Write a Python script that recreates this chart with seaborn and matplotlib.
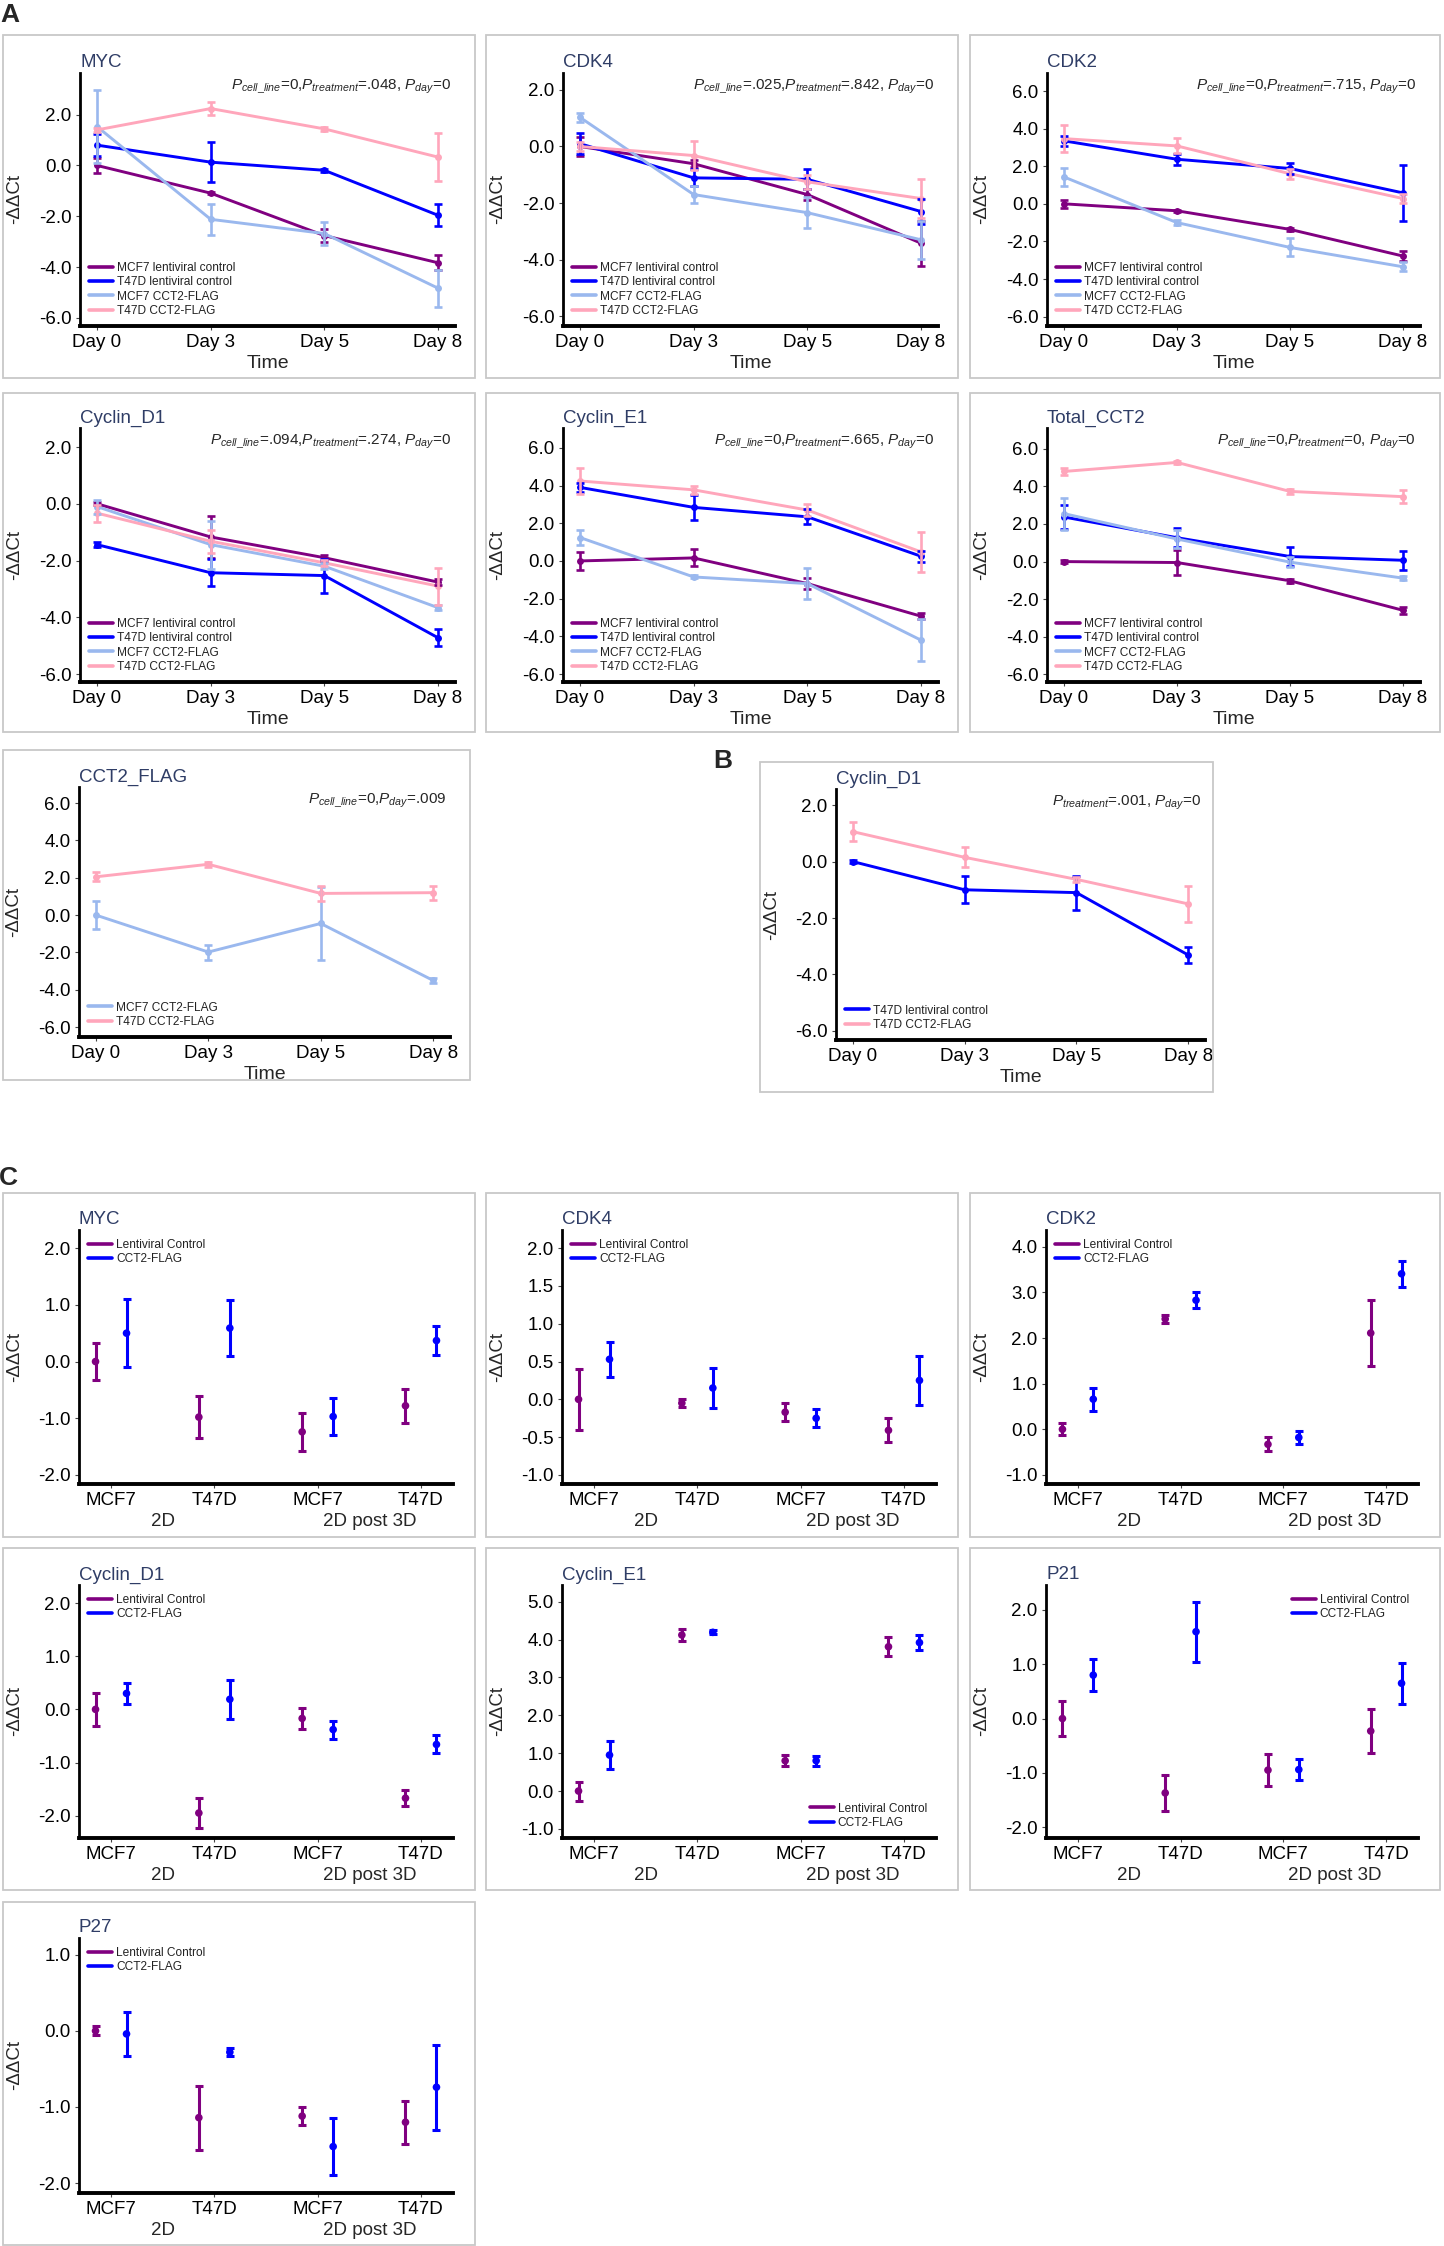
import matplotlib
matplotlib.use("Agg")
import matplotlib.pyplot as plt
import seaborn as sns
import pandas as pd
from matplotlib.lines import Line2D
from matplotlib.patches import Rectangle
from matplotlib.ticker import FuncFormatter

# ---- data: time course (panel A / B) ----
DAYS = ["Day 0", "Day 3", "Day 5", "Day 8"]
GROUPS_A = ["MCF7 lentiviral control", "T47D lentiviral control", "MCF7 CCT2-FLAG", "T47D CCT2-FLAG"]

myc_mean = [[0.0, -1.09, -2.76, -3.83], [0.8, 0.13, -0.19, -1.96], [1.53, -2.12, -2.68, -4.83], [1.4, 2.24, 1.44, 0.33]]
myc_err = [[0.3, 0.05, 0.25, 0.3], [0.42, 0.8, 0.05, 0.43], [1.45, 0.61, 0.45, 0.73], [0.08, 0.27, 0.08, 0.95]]

cdk4_mean = [[0.0, -0.61, -1.7, -3.42], [0.1, -1.11, -1.16, -2.3], [1.03, -1.7, -2.34, -3.3], [0.0, -0.32, -1.25, -1.84]]
cdk4_err = [[0.35, 0.12, 0.2, 0.8], [0.38, 0.3, 0.35, 0.45], [0.15, 0.3, 0.55, 0.67], [0.15, 0.5, 0.25, 0.7]]

cdk2_mean = [[0.0, -0.37, -1.36, -2.78], [3.35, 2.37, 1.88, 0.58], [1.43, -1.0, -2.32, -3.35], [3.47, 3.08, 1.6, 0.28]]
cdk2_err = [[0.2, 0.06, 0.08, 0.25], [0.28, 0.28, 0.28, 1.48], [0.5, 0.15, 0.48, 0.25], [0.72, 0.4, 0.26, 0.22]]

cycd1_mean = [[0.0, -1.17, -1.9, -2.76], [-1.44, -2.43, -2.53, -4.72], [-0.1, -1.44, -2.2, -3.66], [-0.33, -1.32, -2.08, -2.9]]
cycd1_err = [[0.05, 0.75, 0.1, 0.1], [0.08, 0.47, 0.6, 0.3], [0.25, 0.85, 0.1, 0.1], [0.3, 0.4, 0.1, 0.65]]

cyce1_mean = [[0.0, 0.16, -1.2, -2.93], [3.9, 2.84, 2.34, 0.25], [1.24, -0.85, -1.2, -4.2], [4.24, 3.77, 2.7, 0.48]]
cyce1_err = [[0.5, 0.45, 0.3, 0.15], [0.22, 0.67, 0.4, 0.3], [0.42, 0.08, 0.8, 1.1], [0.7, 0.2, 0.3, 1.05]]

cct2_mean = [[0.0, -0.05, -1.02, -2.59], [2.37, 1.27, 0.27, 0.07], [2.55, 1.2, -0.03, -0.88], [4.79, 5.27, 3.73, 3.45]]
cct2_err = [[0.1, 0.65, 0.12, 0.18], [0.62, 0.5, 0.5, 0.5], [0.85, 0.5, 0.25, 0.1], [0.2, 0.08, 0.12, 0.35]]

GROUPS_FLAG = ["MCF7 CCT2-FLAG", "T47D CCT2-FLAG"]
flag_mean = [[0.0, -1.98, -0.45, -3.5], [2.05, 2.72, 1.16, 1.2]]
flag_err = [[0.75, 0.4, 1.95, 0.12], [0.25, 0.12, 0.4, 0.38]]

GROUPS_B = ["T47D lentiviral control", "T47D CCT2-FLAG"]
b_mean = [[0.0, -1.0, -1.1, -3.31], [1.06, 0.15, -0.63, -1.5]]
b_err = [[0.05, 0.48, 0.6, 0.3], [0.33, 0.36, 0.1, 0.65]]

# ---- data: 2D vs 2D post 3D (panel C) ----
CELLS = ["MCF7", "T47D", "MCF7", "T47D"]
CONDITIONS = ["2D", "2D post 3D"]
TREATS = ["Lentiviral Control", "CCT2-FLAG"]

c_myc = [[0.0, -0.98, -1.24, -0.78], [0.5, 0.59, -0.97, 0.37]]
c_myc_err = [[0.33, 0.37, 0.33, 0.3], [0.6, 0.5, 0.33, 0.25]]
c_cdk4 = [[0.0, -0.05, -0.17, -0.41], [0.53, 0.15, -0.25, 0.25]]
c_cdk4_err = [[0.4, 0.05, 0.12, 0.16], [0.23, 0.27, 0.12, 0.32]]
c_cdk2 = [[0.0, 2.42, -0.33, 2.11], [0.66, 2.83, -0.18, 3.41]]
c_cdk2_err = [[0.13, 0.08, 0.15, 0.72], [0.25, 0.18, 0.15, 0.28]]
c_cycd1 = [[0.0, -1.95, -0.17, -1.67], [0.3, 0.19, -0.38, -0.66]]
c_cycd1_err = [[0.31, 0.29, 0.2, 0.15], [0.2, 0.37, 0.17, 0.17]]
c_cyce1 = [[0.0, 4.12, 0.8, 3.81], [0.95, 4.19, 0.8, 3.92]]
c_cyce1_err = [[0.25, 0.15, 0.15, 0.25], [0.38, 0.05, 0.13, 0.2]]
c_p21 = [[0.0, -1.37, -0.95, -0.23], [0.8, 1.6, -0.94, 0.65]]
c_p21_err = [[0.32, 0.33, 0.3, 0.4], [0.3, 0.55, 0.2, 0.38]]
c_p27 = [[0.0, -1.14, -1.12, -1.2], [-0.04, -0.28, -1.52, -0.74]]
c_p27_err = [[0.06, 0.42, 0.12, 0.28], [0.29, 0.05, 0.37, 0.56]]

PAL_A = {"MCF7 lentiviral control": "#800080", "T47D lentiviral control": "#0000ff",
         "MCF7 CCT2-FLAG": "#9ab8ee", "T47D CCT2-FLAG": "#ffa6bb"}
PAL_C = {"Lentiviral Control": "#800080", "CCT2-FLAG": "#0000ff"}
TITLE_COLOR = "#2f3d66"

sns.set_style("white")
plt.rcParams["font.family"] = ["Liberation Sans", "DejaVu Sans"]
plt.rcParams["mathtext.fontset"] = "custom"
plt.rcParams["mathtext.it"] = "Liberation Sans:italic"
plt.rcParams["mathtext.rm"] = "Liberation Sans"
plt.rcParams["axes.unicode_minus"] = False

W, H = 1444, 2246
fig = plt.figure(figsize=(W / 100, H / 100), dpi=100)


def box(l, t, r, b):
    fig.add_artist(Rectangle((l / W, 1 - b / H), (r - l) / W, (b - t) / H, transform=fig.transFigure,
                             fill=False, ec="#c8c8c8", lw=1.3))


def make_ax(l, t, r, b):
    return fig.add_axes([l / W, 1 - b / H, (r - l) / W, (b - t) / H])


def style(ax, title, ylim, yticks):
    for s in ["top", "right"]:
        ax.spines[s].set_visible(False)
    ax.spines["left"].set_linewidth(2.0)
    ax.spines["bottom"].set_linewidth(2.8)
    ax.spines["left"].set_color("black")
    ax.spines["bottom"].set_color("black")
    ax.set_ylim(*ylim)
    ax.set_yticks(yticks)
    ax.yaxis.set_major_formatter(FuncFormatter(lambda v, p: f"{v:.1f}"))
    ax.tick_params(axis="both", which="major", length=3, width=0.8, color="#444444",
                   labelsize=13.5, labelcolor="black", pad=3, left=True, bottom=True)
    ax.set_ylabel("-ΔΔCt", fontsize=13.5)
    ax.yaxis.set_label_coords(-0.152, 0.5)
    ax.set_title(title, loc="left", fontsize=13.5, color=TITLE_COLOR, pad=4)
    ax.grid(False)


def line_panel(rect, title, groups, means, errs, ylim, yticks, ptext):
    ax = make_ax(*rect)
    rows = []
    for g, m in zip(groups, means):
        for i, v in enumerate(m):
            rows.append({"group": g, "day": i, "value": v})
    df = pd.DataFrame(rows)
    sns.lineplot(data=df, x="day", y="value", hue="group", hue_order=groups, palette=PAL_A,
                 linewidth=2.1, marker="o", markersize=5, markeredgewidth=0,
                 errorbar=None, legend=False, ax=ax)
    for g, m, e in zip(groups, means, errs):
        ax.errorbar(range(len(DAYS)), m, yerr=e, fmt="none", ecolor=PAL_A[g],
                    elinewidth=1.9, capsize=3, capthick=1.9)
    ax.set_xlim(-0.15, 3.15)
    ax.set_xticks(range(len(DAYS)))
    ax.set_xticklabels(DAYS)
    style(ax, title, ylim, yticks)
    ax.set_xlabel("Time", fontsize=14)
    ax.xaxis.set_label_coords(0.5, -0.115)
    ax.text(0.99, 0.945, ptext, transform=ax.transAxes, ha="right", va="center", fontsize=11)
    handles = [Line2D([0], [0], color=PAL_A[g], lw=2.6) for g in groups]
    ax.legend(handles, groups, loc="lower left", bbox_to_anchor=(0.0, 0.0), frameon=False,
              fontsize=8.6, labelspacing=0.2, handlelength=2.0, handletextpad=0.35,
              borderaxespad=0.35, labelcolor="#222222")
    return ax


def dot_panel(rect, title, means, errs, ylim, yticks, loc):
    ax = make_ax(*rect)
    offsets = [-0.15, 0.15]
    rows = []
    for t, m, off in zip(TREATS, means, offsets):
        for i, v in enumerate(m):
            rows.append({"treat": t, "x": i + off, "value": v})
    df = pd.DataFrame(rows)
    for t, m, e, off in zip(TREATS, means, errs, offsets):
        ax.errorbar([i + off for i in range(len(CELLS))], m, yerr=e, fmt="none", ecolor=PAL_C[t],
                    elinewidth=2.2, capsize=3, capthick=2.2)
    sns.scatterplot(data=df, x="x", y="value", hue="treat", hue_order=TREATS, palette=PAL_C,
                    s=30, linewidth=0, legend=False, ax=ax, zorder=3)
    ax.set_xlim(-0.31, 3.31)
    ax.set_xticks(range(len(CELLS)))
    ax.set_xticklabels(CELLS)
    style(ax, title, ylim, yticks)
    ax.set_xlabel("")
    ax.yaxis.set_label_coords(-0.149, 0.5)
    for k, cond in enumerate(CONDITIONS):
        ax.annotate(cond, xy=(2 * k + 0.5, 0), xycoords=("data", "axes fraction"),
                    xytext=(0, -27), textcoords="offset points", ha="center", va="center",
                    fontsize=13.5)
    handles = [Line2D([0], [0], color=PAL_C[t], lw=2.6) for t in TREATS]
    ax.legend(handles, TREATS, loc=loc, frameon=False, fontsize=8.6, labelspacing=0.2,
              handlelength=2.0, handletextpad=0.35, borderaxespad=0.35, labelcolor="#222222")
    return ax


COLS = [(3, 475), (486, 958), (970, 1440)]
Y6 = [-6, -4, -2, 0, 2]
Y66 = [-6, -4, -2, 0, 2, 4, 6]

# panel A, row 1
rows_a1 = (35, 378, 73, 326)
specs_a1 = [
    ("MYC", myc_mean, myc_err, (-6.32, 3.64), Y6, r"$P_{cell\_line}$=0,$P_{treatment}$=.048, $P_{day}$=0"),
    ("CDK4", cdk4_mean, cdk4_err, (-6.35, 2.6), Y6, r"$P_{cell\_line}$=.025,$P_{treatment}$=.842, $P_{day}$=0"),
    ("CDK2", cdk2_mean, cdk2_err, (-6.5, 6.96), Y66, r"$P_{cell\_line}$=0,$P_{treatment}$=.715, $P_{day}$=0"),
]
for (l, r), sp in zip(COLS, specs_a1):
    box(l, rows_a1[0], r, rows_a1[1])
    line_panel((l + 77, rows_a1[2], r - 20, rows_a1[3]), sp[0], GROUPS_A, sp[1], sp[2], sp[3], sp[4], sp[5])

# panel A, row 2
rows_a2 = (393, 732, 428, 682)
specs_a2 = [
    ("Cyclin_D1", cycd1_mean, cycd1_err, (-6.28, 2.67), Y6, r"$P_{cell\_line}$=.094,$P_{treatment}$=.274, $P_{day}$=0"),
    ("Cyclin_E1", cyce1_mean, cyce1_err, (-6.42, 7.05), Y66, r"$P_{cell\_line}$=0,$P_{treatment}$=.665, $P_{day}$=0"),
    ("Total_CCT2", cct2_mean, cct2_err, (-6.4, 7.1), Y66, r"$P_{cell\_line}$=0,$P_{treatment}$=0, $P_{day}$=0"),
]
for (l, r), sp in zip(COLS, specs_a2):
    box(l, rows_a2[0], r, rows_a2[1])
    line_panel((l + 77, rows_a2[2], r - 20, rows_a2[3]), sp[0], GROUPS_A, sp[1], sp[2], sp[3], sp[4], sp[5])

# panel A, row 3 and panel B
box(3, 750, 470, 1080)
line_panel((79, 787, 450, 1037), "CCT2_FLAG", GROUPS_FLAG, flag_mean, flag_err, (-6.53, 6.86), Y66,
           r"$P_{cell\_line}$=0,$P_{day}$=.009")
box(760, 762, 1213, 1092)
line_panel((836, 789, 1205, 1040), "Cyclin_D1", GROUPS_B, b_mean, b_err, (-6.32, 2.57), Y6,
           r"$P_{treatment}$=.001, $P_{day}$=0")

# panel C
rows_c = [(1193, 1537, 1230, 1484), (1548, 1890, 1585, 1838), (1902, 2245, 1938, 2193)]
specs_c = [
    [("MYC", c_myc, c_myc_err, (-2.16, 2.32), [-2, -1, 0, 1, 2], "upper left"),
     ("CDK4", c_cdk4, c_cdk4_err, (-1.12, 2.24), [-1, -0.5, 0, 0.5, 1, 1.5, 2], "upper left"),
     ("CDK2", c_cdk2, c_cdk2_err, (-1.2, 4.37), [-1, 0, 1, 2, 3, 4], "upper left")],
    [("Cyclin_D1", c_cycd1, c_cycd1_err, (-2.42, 2.34), [-2, -1, 0, 1, 2], "upper left"),
     ("Cyclin_E1", c_cyce1, c_cyce1_err, (-1.24, 5.44), [-1, 0, 1, 2, 3, 4, 5], "lower right"),
     ("P21", c_p21, c_p21_err, (-2.2, 2.46), [-2, -1, 0, 1, 2], "upper right")],
    [("P27", c_p27, c_p27_err, (-2.13, 1.22), [-2, -1, 0, 1], "upper left")],
]
for rw, row_specs in zip(rows_c, specs_c):
    for (l, r), sp in zip(COLS, row_specs):
        box(l, rw[0], r, rw[1])
        dot_panel((l + 76, rw[2], r - 22, rw[3]), sp[0], sp[1], sp[2], sp[3], sp[4], sp[5])

# panel letters
fig.text(10 / W, 1 - 15 / H, "A", fontsize=19, fontweight="bold", ha="center", va="center")
fig.text(723 / W, 1 - 761 / H, "B", fontsize=19, fontweight="bold", ha="center", va="center")
fig.text(8 / W, 1 - 1178 / H, "C", fontsize=19, fontweight="bold", ha="center", va="center")

fig.savefig("out.png", dpi=100, facecolor="white")
